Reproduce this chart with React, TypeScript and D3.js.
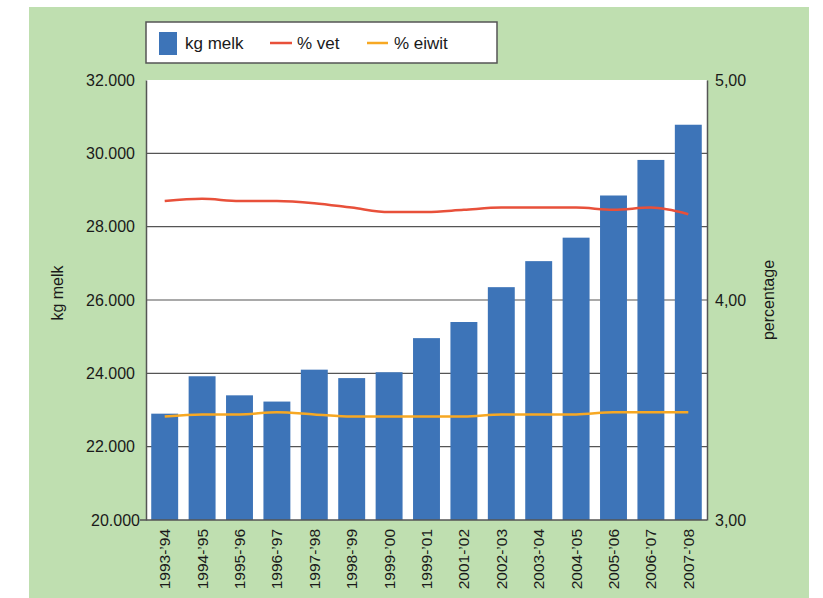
import React, { useEffect, useRef } from "react";
import * as d3 from "d3";

const seasons = [
  "1993-’94", "1994-’95", "1995-’96", "1996-’97", "1997-’98", "1998-’99", "1999-’00",
  "1999-’01", "2001-’02", "2002-’03", "2003-’04", "2004-’05", "2005-’06", "2006-’07", "2007-’08",
];
const kgMelk = [22900, 23920, 23400, 23230, 24100, 23870, 24030, 24960, 25400, 26350, 27060, 27700, 28850, 29820, 30780];
const pctVet = [4.45, 4.46, 4.45, 4.45, 4.44, 4.42, 4.40, 4.40, 4.41, 4.42, 4.42, 4.42, 4.41, 4.42, 4.39];
const pctEiwit = [3.47, 3.48, 3.48, 3.49, 3.48, 3.47, 3.47, 3.47, 3.47, 3.48, 3.48, 3.48, 3.49, 3.49, 3.49];
const leftTicks = [20000, 22000, 24000, 26000, 28000, 30000, 32000];
const rightTicks = [3, 4, 5];

const W = 823, H = 598;
const FONT = "'Liberation Sans', Arial, sans-serif";
const INK = "#1a1a1a";

export default function App() {
  const ref = useRef<SVGSVGElement>(null);

  useEffect(() => {
    const svg = d3.select(ref.current);
    svg.selectAll("*").remove();

    const m = { left: 146, right: 707, top: 80, bottom: 520 };

    svg.append("rect").attr("x", 29).attr("y", 7).attr("width", 780).attr("height", H - 7).attr("fill", "#bfdfb0");
    svg.append("rect").attr("x", m.left).attr("y", m.top).attr("width", m.right - m.left).attr("height", m.bottom - m.top).attr("fill", "#fff");

    const x = d3.scaleBand().domain(seasons).range([m.left, m.right]).paddingInner(0.28).paddingOuter(0.14);
    const y = d3.scaleLinear().domain([20000, 32000]).range([m.bottom, m.top]);
    const y2 = d3.scaleLinear().domain([3, 5]).range([m.bottom, m.top]);

    // gridlines
    svg.append("g")
      .selectAll("line")
      .data(leftTicks.slice(1, -1))
      .join("line")
      .attr("x1", m.left).attr("x2", m.right)
      .attr("y1", d => y(d)).attr("y2", d => y(d))
      .attr("stroke", "#555").attr("stroke-width", 1.2);

    // bars
    svg.append("g")
      .selectAll("rect")
      .data(kgMelk)
      .join("rect")
      .attr("x", (_, i) => x(seasons[i])!)
      .attr("width", x.bandwidth())
      .attr("y", d => y(d))
      .attr("height", d => m.bottom - y(d))
      .attr("fill", "#3d74b8");

    const ln = (vals: number[]) =>
      d3.line<number>()
        .x((_, i) => x(seasons[i])! + x.bandwidth() / 2)
        .y(d => y2(d))
        .curve(d3.curveMonotoneX)(vals);

    svg.append("path").attr("d", ln(pctEiwit)).attr("fill", "none").attr("stroke", "#f7a823").attr("stroke-width", 2.5);
    svg.append("path").attr("d", ln(pctVet)).attr("fill", "none").attr("stroke", "#e8503a").attr("stroke-width", 2.5);

    // left axis
    const la = svg.append("g").attr("transform", `translate(${m.left},0)`)
      .call(d3.axisLeft(y).tickValues(leftTicks).tickSize(0).tickPadding(11)
        .tickFormat(d => d3.format(",")(d as number).replace(",", ".")));
    la.select(".domain").attr("stroke", "#555").attr("stroke-width", 1.5);
    la.selectAll(".tick text").attr("font-family", FONT).attr("font-size", 16).attr("fill", INK);
    la.selectAll<SVGTextElement, number>(".tick text").filter(d => d === 20000).attr("x", -6);

    // right axis
    const ra = svg.append("g").attr("transform", `translate(${m.right},0)`)
      .call(d3.axisRight(y2).tickValues(rightTicks).tickSize(0).tickPadding(8)
        .tickFormat(d => (d as number).toFixed(2).replace(".", ",")));
    ra.select(".domain").attr("stroke", "#555").attr("stroke-width", 1.5);
    ra.selectAll(".tick text").attr("font-family", FONT).attr("font-size", 16).attr("fill", INK);

    // bottom axis
    svg.append("line").attr("x1", m.left - 6).attr("x2", m.right).attr("y1", m.bottom).attr("y2", m.bottom).attr("stroke", "#555").attr("stroke-width", 1.5);
    svg.append("g")
      .selectAll("text")
      .data(seasons)
      .join("text")
      .attr("transform", d => `translate(${x(d)! + x.bandwidth() / 2 + 5.5},529) rotate(-90)`)
      .attr("text-anchor", "end")
      .attr("font-family", FONT).attr("font-size", 15.5).attr("fill", INK)
      .text(d => d);

    // axis titles
    svg.append("text").attr("transform", "translate(63,293) rotate(-90)").attr("text-anchor", "middle")
      .attr("font-family", FONT).attr("font-size", 16).attr("fill", INK).text("kg melk");
    svg.append("text").attr("transform", "translate(774,300) rotate(-90)").attr("text-anchor", "middle")
      .attr("font-family", FONT).attr("font-size", 16).attr("fill", INK).text("percentage");

    // legend
    const lg = svg.append("g");
    lg.append("rect").attr("x", 146).attr("y", 22).attr("width", 351).attr("height", 41).attr("fill", "#fff").attr("stroke", "#555").attr("stroke-width", 1.5);
    lg.append("rect").attr("x", 159).attr("y", 32).attr("width", 18).attr("height", 23).attr("fill", "#3d74b8");
    lg.append("text").attr("x", 185).attr("y", 49).attr("font-family", FONT).attr("font-size", 17).attr("fill", INK).text("kg melk");
    lg.append("line").attr("x1", 270).attr("x2", 292).attr("y1", 43).attr("y2", 43).attr("stroke", "#e8503a").attr("stroke-width", 2.5);
    lg.append("text").attr("x", 297).attr("y", 49).attr("font-family", FONT).attr("font-size", 17).attr("fill", INK).text("% vet");
    lg.append("line").attr("x1", 367).attr("x2", 388).attr("y1", 43).attr("y2", 43).attr("stroke", "#f7a823").attr("stroke-width", 2.5);
    lg.append("text").attr("x", 394).attr("y", 49).attr("font-family", FONT).attr("font-size", 17).attr("fill", INK).text("% eiwit");
  }, []);

  return (
    <svg ref={ref} width={W} height={H} style={{ position: "absolute", left: 0, top: 0, background: "#fff" }} />
  );
}
